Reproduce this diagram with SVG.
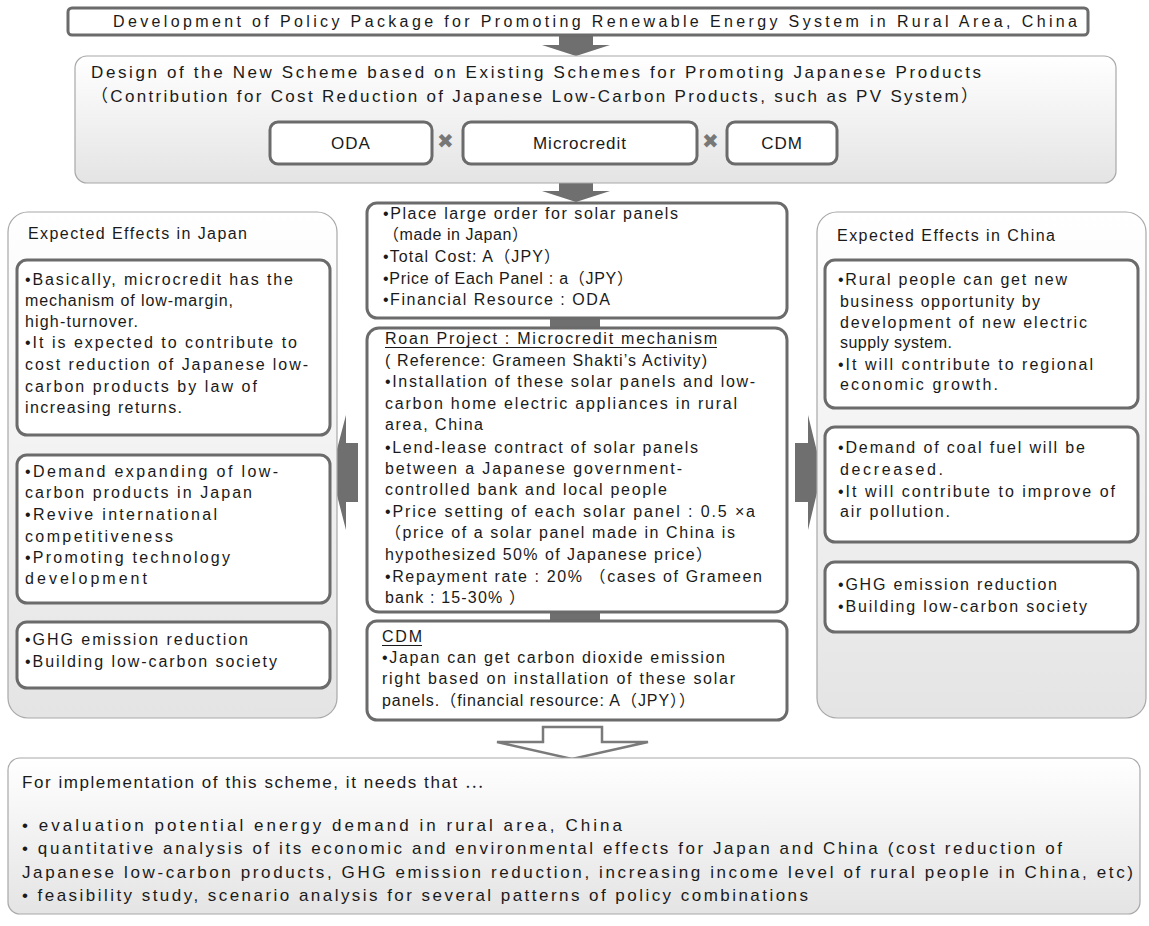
<svg xmlns="http://www.w3.org/2000/svg" width="1149" height="926" viewBox="0 0 1149 926">
<defs>
<linearGradient id="g" x1="0" y1="0" x2="0" y2="1">
<stop offset="0" stop-color="#ffffff"/>
<stop offset="1" stop-color="#e4e4e4"/>
</linearGradient>
<style>
.panel{fill:url(#g);stroke:#a8a8a8;stroke-width:1.2}
.box{fill:#fff;stroke:#6b6b6b;stroke-width:3}
.conn{fill:#6f6f6f}
.t{font-family:"Liberation Sans","Noto Sans CJK JP",sans-serif;font-size:16px;fill:#1a1a1a}
.t17{font-size:17px}
.c{text-anchor:middle}
.x{font-family:"DejaVu Sans",sans-serif;font-size:20px;fill:#777}
.ul{stroke:#1a1a1a;stroke-width:1}
.hollow{fill:#fff;stroke:#7a7a7a;stroke-width:2.5}
.cjk{font-family:"Noto Sans CJK JP",sans-serif}
</style>
</defs>
<rect width="1149" height="926" fill="#fff"/>

<g id="connectors">
<polygon class="conn" points="559,35 593,35 593,45 610,45 576,56 542,45 559,45"/>
<polygon class="conn" points="559,183 593,183 593,191 610,191 576,202 542,191 559,191"/>
<polygon class="conn" points="155,435 181,435 181,445 192,445 168,456 144,445 155,445"/>
<polygon class="conn" points="155,603 181,603 181,612 192,612 168,622 144,612 155,612"/>
<rect class="conn" x="550" y="316" width="50" height="14"/>
<rect class="conn" x="550" y="610" width="50" height="13"/>
<rect class="conn" x="961" y="406" width="39" height="23"/>
<rect class="conn" x="961" y="540" width="39" height="24"/>
<polygon class="conn" points="358,443 346,443 346,415 331,472 346,530 346,502 358,502"/>
<polygon class="conn" points="795,443 808,443 808,415 822,472 808,530 808,502 795,502"/>
<polygon class="hollow" points="543,727 602,727 602,742 648,742 572,759 497,742 543,742"/>
</g>

<g id="title">
<rect class="box" x="68" y="8" width="1020" height="27" rx="4"/>
<text class="t" x="113" y="27" textLength="964">Development of Policy Package for Promoting Renewable Energy System in Rural Area, China</text>
</g>

<g id="design">
<rect class="panel" x="75" y="56" width="1041" height="127" rx="12"/>
<text class="t t17" x="91" y="78" textLength="890">Design of the New Scheme based on Existing Schemes for Promoting Japanese Products</text>
<text class="t t17" x="91" y="102" textLength="887">（Contribution for Cost Reduction of Japanese Low-Carbon Products, such as PV System）</text>
</g>
<g id="oda">
<rect class="box" x="270" y="122" width="162" height="42" rx="8"/>
<text class="t t17 c" x="351" y="149" letter-spacing="1">ODA</text>
</g>
<text class="x" x="437" y="148">✖</text>
<g id="microcredit">
<rect class="box" x="463" y="122" width="234" height="42" rx="8"/>
<text class="t t17 c" x="580" y="149" letter-spacing="1">Microcredit</text>
</g>
<text class="x" x="702" y="148">✖</text>
<g id="cdm-top">
<rect class="box" x="727" y="122" width="110" height="42" rx="8"/>
<text class="t t17 c" x="782" y="149" letter-spacing="1">CDM</text>
</g>

<g id="japan-panel">
<rect class="panel" x="8" y="212" width="329" height="506" rx="20"/>
<text class="t" x="28" y="239" textLength="219">Expected Effects in Japan</text>
</g>
<g id="japan-1">
<rect class="box" x="17" y="260" width="313" height="175" rx="10"/>
<text class="t" x="25" y="285" textLength="268">•Basically, microcredit has the</text>
<text class="t" x="25" y="306" textLength="208">mechanism of low-margin,</text>
<text class="t" x="25" y="327" textLength="113">high-turnover.</text>
<text class="t" x="25" y="348" textLength="272">•It is expected to contribute to</text>
<text class="t" x="25" y="370" textLength="283">cost reduction of Japanese low-</text>
<text class="t" x="25" y="392" textLength="232">carbon products by law of</text>
<text class="t" x="25" y="413" textLength="157">increasing returns.</text>
</g>
<g id="japan-2">
<rect class="box" x="17" y="455" width="313" height="148" rx="10"/>
<text class="t" x="25" y="477" textLength="253">•Demand expanding of low-</text>
<text class="t" x="25" y="498" textLength="227">carbon products in Japan</text>
<text class="t" x="25" y="520" textLength="192">•Revive international</text>
<text class="t" x="25" y="542" textLength="148">competitiveness</text>
<text class="t" x="25" y="563" textLength="205">•Promoting technology</text>
<text class="t" x="25" y="584" textLength="122">development</text>
</g>
<g id="japan-3">
<rect class="box" x="17" y="622" width="313" height="66" rx="10"/>
<text class="t" x="25" y="645" textLength="223">•GHG emission reduction</text>
<text class="t" x="25" y="667" textLength="252">•Building low-carbon society</text>
</g>

<g id="order">
<rect class="box" x="367" y="203" width="420" height="115" rx="10"/>
<text class="t" x="383" y="219" textLength="295">•Place large order for solar panels</text>
<text class="t" x="383" y="240" textLength="145">（made in Japan）</text>
<text class="t" x="383" y="262" textLength="177">•Total Cost:  A（JPY）</text>
<text class="t" x="383" y="284" textLength="250">•Price of Each Panel : a（JPY）</text>
<text class="t" x="383" y="305" textLength="227">•Financial Resource : ODA</text>
</g>
<g id="loan">
<rect class="box" x="367" y="328" width="420" height="284" rx="12"/>
<text class="t" x="385" y="344" textLength="332">Roan Project : Microcredit mechanism</text>
<line class="ul" x1="385" y1="347.5" x2="717" y2="347.5"/>
<text class="t" x="385" y="366" textLength="322">( Reference: Grameen Shakti’s Activity)</text>
<text class="t" x="385" y="387" textLength="370">•Installation of these solar panels and low-</text>
<text class="t" x="385" y="409" textLength="352">carbon home electric appliances in rural</text>
<text class="t" x="385" y="430" textLength="98">area, China</text>
<text class="t" x="385" y="453" textLength="313">•Lend-lease contract of solar panels</text>
<text class="t" x="385" y="474" textLength="297">between a Japanese government-</text>
<text class="t" x="385" y="495" textLength="282">controlled bank and local people</text>
<text class="t" x="385" y="517" textLength="370">•Price setting of each solar panel : 0.5 ×a</text>
<text class="t" x="385" y="538" textLength="350">（price of a solar panel made in China is</text>
<text class="t" x="385" y="560" textLength="327">hypothesized 50%  of Japanese price）</text>
<text class="t" x="385" y="582" textLength="377">•Repayment rate : 20% （cases of Grameen</text>
<text class="t" x="385" y="603" textLength="140">bank : 15-30% ）</text>
</g>
<g id="cdm">
<rect class="box" x="367" y="621" width="420" height="99" rx="10"/>
<text class="t" x="382" y="642" textLength="40">CDM</text>
<line class="ul" x1="382" y1="645.5" x2="422" y2="645.5"/>
<text class="t" x="382" y="663" textLength="343">•Japan can  get carbon dioxide emission</text>
<text class="t" x="382" y="684" textLength="353">right based on installation of these solar</text>
<text class="t" x="382" y="706" textLength="313">panels.（financial resource:  A（JPY））</text>
</g>

<g id="china-panel">
<rect class="panel" x="817" y="212" width="329" height="506" rx="20"/>
<text class="t" x="837" y="241" textLength="218">Expected Effects in China</text>
</g>
<g id="china-1">
<rect class="box" x="825" y="260" width="313" height="148" rx="10"/>
<text class="t" x="838" y="285" textLength="229">•Rural people can get new</text>
<text class="t" x="840" y="307" textLength="200">business opportunity by</text>
<text class="t" x="840" y="328" textLength="247">development of new electric</text>
<text class="t" x="840" y="348" textLength="112">supply system.</text>
<text class="t" x="838" y="370" textLength="255">•It will contribute to regional</text>
<text class="t" x="840" y="390" textLength="158">economic growth.</text>
</g>
<g id="china-2">
<rect class="box" x="825" y="427" width="313" height="115" rx="10"/>
<text class="t" x="838" y="453" textLength="247">•Demand of coal fuel will be</text>
<text class="t" x="840" y="475" textLength="103">decreased.</text>
<text class="t" x="838" y="497" textLength="277">•It will contribute to improve of</text>
<text class="t" x="840" y="517" textLength="110">air pollution.</text>
</g>
<g id="china-3">
<rect class="box" x="825" y="562" width="313" height="70" rx="10"/>
<text class="t" x="838" y="590" textLength="219">•GHG emission reduction</text>
<text class="t" x="838" y="612" textLength="249">•Building low-carbon society</text>
</g>

<g id="requirements">
<rect class="panel" x="8" y="758" width="1132" height="156" rx="12"/>
<text class="t t17" x="22" y="788" textLength="461">For implementation of this scheme, it needs that <tspan class="cjk">…</tspan></text>
<text class="t t17" x="22" y="831" textLength="600">• evaluation potential energy demand in rural area, China</text>
<text class="t t17" x="22" y="854" textLength="1040">• quantitative analysis of its economic and environmental effects for Japan and China (cost reduction of</text>
<text class="t t17" x="22" y="878" textLength="1111">Japanese low-carbon products, GHG emission reduction, increasing income level of rural people in China, etc)</text>
<text class="t t17" x="22" y="901" textLength="786">• feasibility study, scenario analysis for several patterns of policy combinations</text>
</g>
</svg>
